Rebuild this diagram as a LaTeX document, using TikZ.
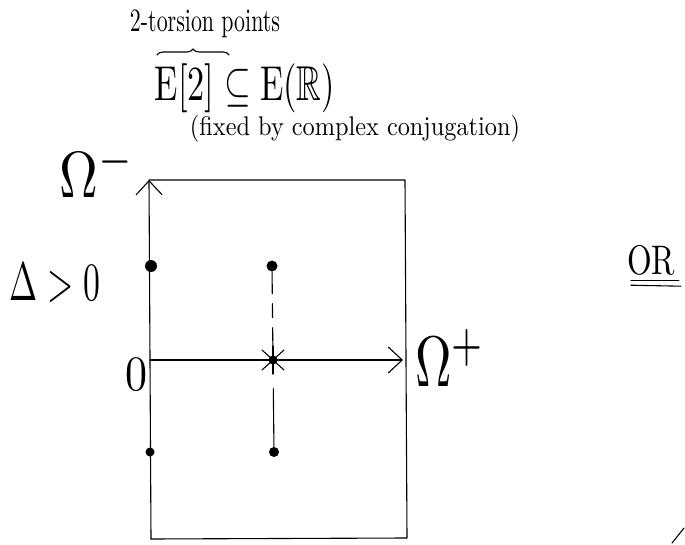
\documentclass[tikz,border=0pt]{standalone}
\usepackage{amssymb}
\usetikzlibrary{arrows.meta,decorations.pathreplacing}
\begin{document}
\begin{tikzpicture}[x=1pt,y=-1pt,
  pen/.style={line width=1.1pt,line cap=round,line join=round},
  barb/.style={-{Straight Barb[length=14pt,width=26pt,line width=1.1pt]}},
  dot/.style={circle,fill=black,inner sep=0pt,minimum size=#1},
  lbl/.style={inner sep=0pt}]
\useasboundingbox (0,0) rectangle (685,545);
% texts
\node[lbl] (tor) at (205,24) {\resizebox*{150pt}{28pt}{2-torsion points}};
\node[lbl] (form) at (245,88) {\resizebox*{180pt}{49pt}{$\mathrm{E}[2]\subseteq \mathrm{E}(\mathbb{R})$}};
\node[lbl] (fix) at (355,129) {\resizebox*{330pt}{27pt}{(fixed by complex conjugation)}};
\draw[pen,decorate,decoration={brace,amplitude=6pt}] (157,55) -- (229,55);
\node[lbl] (omm) at (97,171) {\resizebox*{75pt}{52pt}{$\Omega^{-}$}};
\node[lbl] (delta) at (55,283) {\resizebox*{90pt}{39pt}{$\Delta>0$}};
\node[lbl] (zero) at (136,375) {\resizebox*{22pt}{34pt}{0}};
\node[lbl] (omp) at (450,358) {\resizebox*{70pt}{57pt}{$\Omega^{+}$}};
\node[lbl] (or) at (651,260) {\resizebox*{48pt}{30pt}{OR}};
\draw[pen] (or.south west) ++(4,5) -- ++(48,0);
\draw[pen] (or.south west) ++(4,10) -- ++(50,1);
% box and axes
\coordinate (o) at (150,360);
\coordinate (bl) at (151,539);
\coordinate (tl) at (149,180);
\coordinate (tr) at (405,180);
\coordinate (br) at (407,538);
\coordinate (xe) at (403,360);
\draw[pen] (tl) -- (tr) -- (br) -- (bl);
\draw[pen,barb] (bl) -- (tl);
\draw[pen,barb] (o) -- (xe);
% points
\node[dot=12pt] (a1) at (151,266) {};
\node[dot=11pt] (b1) at (272,266) {};
\node[dot=9pt] (a2) at (150,452) {};
\node[dot=10pt] (b2) at (274,452) {};
\node[dot=9pt] (c) at (273,360) {};
\draw[pen] (c.center) ++(-11,-10) -- ++(22,20);
\draw[pen] (c.center) ++(-11,10) -- ++(22,-20);
\draw[pen] (c.center) ++(0,-14) -- ++(0,28);
\draw[pen,dash pattern=on 22pt off 10pt on 14pt off 10pt] (b1) -- (c);
\draw[pen,dash pattern=on 0pt off 24pt on 70pt] (c) -- (b2);
% stray mark
\draw[pen] (672,543) -- (684,528);
\end{tikzpicture}
\end{document}
